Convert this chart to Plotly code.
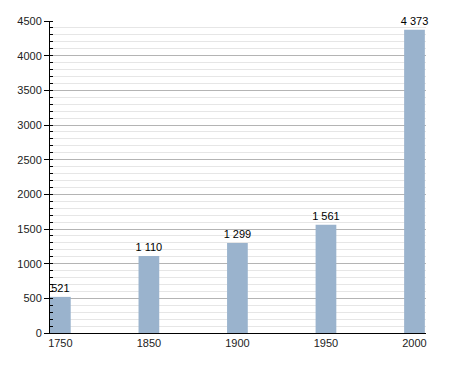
import plotly.graph_objects as go

years = ["1750", "1850", "1900", "1950", "2000"]
population = [521, 1110, 1299, 1561, 4373]
labels = [f"{v:,}".replace(",", " ") for v in population]

fig = go.Figure()
fig.add_trace(go.Bar(
    x=years, y=population,
    text=labels, textposition="outside", cliponaxis=False,
    constraintext="none",
    textfont=dict(family="Liberation Sans, Arial, sans-serif", size=11, color="#000"),
    marker=dict(color="#9AB3CD", line=dict(width=0)),
    width=0.234,
))

fig.update_layout(
    width=455, height=373,
    margin=dict(l=50, r=29, t=21, b=40),
    paper_bgcolor="white", plot_bgcolor="white",
    showlegend=False,
    font=dict(family="Liberation Sans, Arial, sans-serif", size=11, color="#222"),
    xaxis=dict(
        type="category", range=[-0.117, 4.13],
        showline=True, linecolor="#000", linewidth=1,
        ticks="", showgrid=False, tickfont=dict(size=11, color="#222"),
    ),
    yaxis=dict(
        range=[0, 4500], dtick=500, tick0=0,
        showline=True, linecolor="#000", linewidth=1,
        ticks="outside", ticklen=5, tickcolor="#000",
        showgrid=True, gridcolor="#B4B4B4", gridwidth=1,
        zeroline=False,
        tickfont=dict(size=11, color="#222"),
        minor=dict(dtick=100, ticks="inside", ticklen=3, tickcolor="#000",
                   showgrid=True, gridcolor="#E6E6E6", gridwidth=1),
    ),
)

fig.write_html("out.html")
